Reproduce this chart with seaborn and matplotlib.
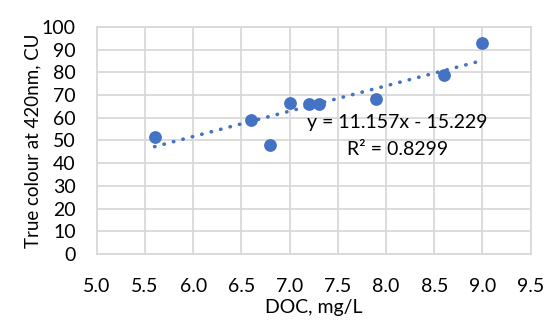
import numpy as np
import pandas as pd
import matplotlib
matplotlib.use("Agg")
import matplotlib.pyplot as plt
import seaborn as sns

# DOC (mg/L) and true colour at 420 nm (CU) for each sample
doc = [5.6, 6.6, 6.8, 7.0, 7.2, 7.3, 7.9, 8.6, 9.0]
colour = [51.3, 59.0, 48.0, 66.4, 65.9, 66.0, 68.2, 78.8, 92.8]

# Linear trendline coefficients and fit quality
slope = 11.157
intercept = -15.229
r_squared = 0.8299

x_ticks = [5.0, 5.5, 6.0, 6.5, 7.0, 7.5, 8.0, 8.5, 9.0, 9.5]
y_ticks = list(range(0, 101, 10))

df = pd.DataFrame({"DOC": doc, "Colour": colour})

sns.set_theme(style="white")
plt.rcParams["font.family"] = ["Lato", "DejaVu Sans"]

fig = plt.figure(figsize=(5.57, 3.31), dpi=100)
ax = fig.add_axes([0.1736, 0.2326, 0.7792, 0.6864])

blue = "#4472C4"
grid = "#D9D9D9"
fs = 14

# Trendline across the range of the data
xt = np.linspace(min(doc), max(doc), 50)
ax.plot(xt, slope * xt + intercept, linestyle=(0, (0.1, 2.6)), color=blue,
        linewidth=2.6, dash_capstyle="round", zorder=2)

sns.scatterplot(data=df, x="DOC", y="Colour", ax=ax, color=blue, s=85,
                edgecolor=blue, linewidth=0, zorder=3)

ax.set_xlim(5.0, 9.5)
ax.set_ylim(0, 100)
ax.set_xticks(x_ticks)
ax.set_xticklabels([f"{v:.1f}" for v in x_ticks])
ax.set_yticks(y_ticks)
ax.set_yticklabels([str(v) for v in y_ticks])
ax.grid(True, color=grid, linewidth=1.3)
ax.set_axisbelow(True)
for sp in ax.spines.values():
    sp.set_color(grid)
    sp.set_linewidth(1.3)
ax.tick_params(axis="x", length=0, labelsize=fs, colors="#000000", pad=17)
ax.tick_params(axis="y", length=0, labelsize=fs, colors="#000000", pad=15)

ax.set_xlabel("DOC, mg/L", fontsize=fs, color="#000000", labelpad=3)
ax.set_ylabel("True colour at 420nm, CU", fontsize=13.5, color="#000000", labelpad=0)

ax.text(7.18, 58.1, f"y = {slope}x - {abs(intercept)}", fontsize=fs,
        va="center", ha="left", color="#000000")
ax.text(7.595, 46.2, f"R² = {r_squared}", fontsize=fs,
        va="center", ha="left", color="#000000")

fig.savefig("out.png", dpi=100, facecolor="white")
